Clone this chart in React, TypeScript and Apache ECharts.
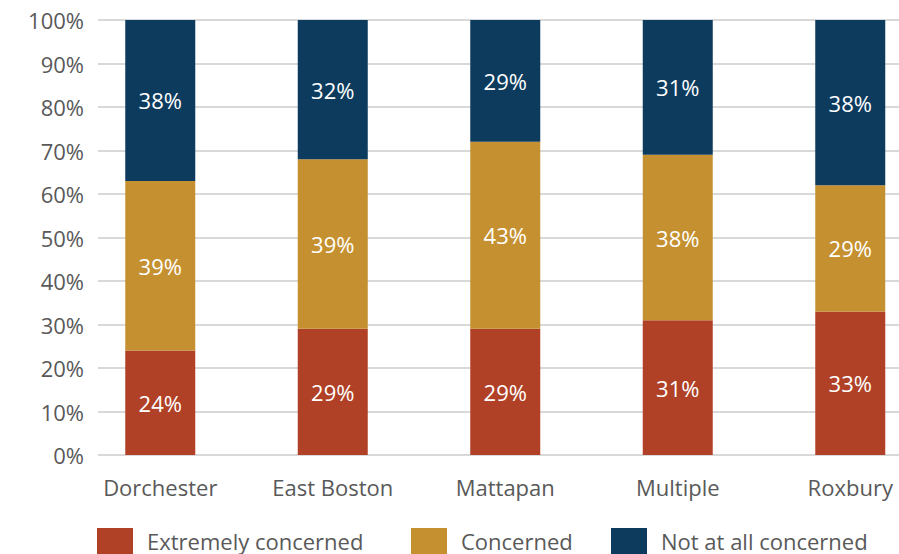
import React, { useEffect, useRef } from "react";
import * as echarts from "echarts";

const neighborhoods = ["Dorchester", "East Boston", "Mattapan", "Multiple", "Roxbury"];
const extremelyConcerned = [24, 29, 29, 31, 33];
const concerned = [39, 39, 43, 38, 29];
const notAtAllConcerned = [38, 32, 29, 31, 38];
const seriesNames = ["Extremely concerned", "Concerned", "Not at all concerned"];
const seriesColors = ["#B04127", "#C59130", "#0D3B5E"];

const FONT = "'Open Sans', 'Noto Sans', sans-serif";
const TEXT_GRAY = "#595959";
const FONT_SIZE = 22;

// The drawing surface is wider than the visible frame; the last category
// runs past the right edge, as in the original layout.
const VIEW_W = 899;
const VIEW_H = 554;
const CANVAS_W = 940;

export default function App() {
  const ref = useRef<HTMLDivElement>(null);

  useEffect(() => {
    if (!ref.current) return;
    const chart = echarts.init(ref.current, undefined, { renderer: "svg" });
    const values = [extremelyConcerned, concerned, notAtAllConcerned];

    const legendLefts = [97, 411, 611];

    chart.setOption({
      animation: false,
      textStyle: { fontFamily: FONT },
      grid: [
        // gridlines + percentage axis
        { left: 98, right: CANVAS_W - VIEW_W, top: 20, height: 435 },
        // bars
        { left: 74, width: 862.5, top: 20, height: 435 },
      ],
      xAxis: [
        { type: "category", gridIndex: 0, data: neighborhoods, show: false },
        {
          type: "category",
          gridIndex: 1,
          data: neighborhoods,
          axisLine: { show: false },
          axisTick: { show: false },
          axisLabel: { color: TEXT_GRAY, fontSize: FONT_SIZE, margin: 21, fontFamily: FONT },
        },
      ],
      yAxis: [
        {
          type: "value",
          gridIndex: 0,
          min: 0,
          max: 100,
          interval: 10,
          axisLine: { show: false },
          axisTick: { show: false },
          splitLine: { lineStyle: { color: "#D9D9D9", width: 2 } },
          axisLabel: {
            color: TEXT_GRAY,
            fontSize: FONT_SIZE,
            margin: 14,
            fontFamily: FONT,
            formatter: "{value}%",
          },
        },
        {
          type: "value",
          gridIndex: 1,
          min: 0,
          max: 100,
          interval: 10,
          show: false,
          splitLine: { show: false },
        },
      ],
      legend: legendLefts.map((left, i) => ({
        data: [seriesNames[i]],
        left,
        top: 528,
        itemWidth: 36,
        itemHeight: 26,
        icon: "rect",
        padding: 0,
        textStyle: {
          color: TEXT_GRAY,
          fontSize: FONT_SIZE,
          fontFamily: FONT,
          padding: [0, 0, 0, 9],
        },
      })),
      series: seriesNames.map((name, i) => ({
        name,
        type: "bar",
        stack: "total",
        xAxisIndex: 1,
        yAxisIndex: 1,
        barWidth: 70,
        data: values[i],
        itemStyle: { color: seriesColors[i] },
        label: {
          show: true,
          position: "inside",
          color: "#FFFFFF",
          fontSize: FONT_SIZE,
          fontFamily: FONT,
          formatter: "{c}%",
        },
      })),
    });

    return () => chart.dispose();
  }, []);

  return (
    <div style={{ position: "absolute", left: 0, top: 0, width: VIEW_W, height: VIEW_H, overflow: "hidden" }}>
      <div ref={ref} style={{ width: CANVAS_W, height: VIEW_H }} />
    </div>
  );
}
